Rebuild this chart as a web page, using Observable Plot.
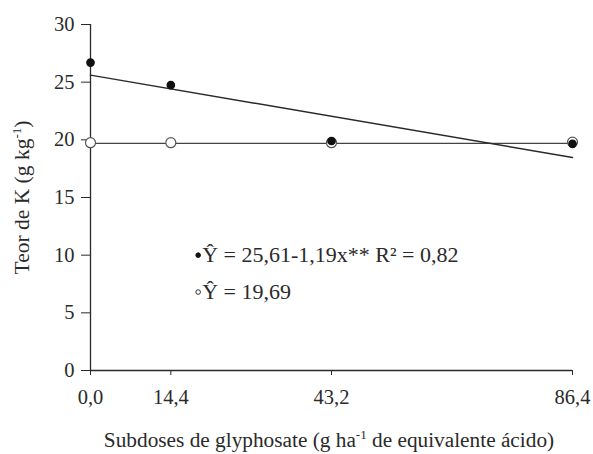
<!DOCTYPE html>
<html>
<head>
<meta charset="utf-8">
<script src="https://cdn.jsdelivr.net/npm/d3@7"></script>
<script src="https://cdn.jsdelivr.net/npm/@observablehq/plot@0.6"></script>
<style>
  html, body { margin: 0; padding: 0; background: #fff; }
  #chart svg { display: block; }
  #chart svg, #chart svg text, #chart svg tspan { font-family: "Liberation Serif", "Times New Roman", serif; }
</style>
</head>
<body>
<div id="chart"></div>
<script>
// Doses (g ha-1 de equivalente ácido)
const doses = [0, 14.4, 43.2, 86.4];
const doseLabels = ["0,0", "14,4", "43,2", "86,4"];
// Observed values, filled series (linear fit)
const filledValues = [26.7, 24.75, 19.9, 19.65];
// Observed values, open series (mean)
const openValues = [19.75, 19.75, 19.75, 19.8];
// Fitted lines (end points)
const fitX = [0, 86.4];
const fitFilled = [25.61, 18.47];
const fitOpen = [19.69, 19.69];
const yTicks = [0, 5, 10, 15, 20, 25, 30];
// Legend entries
const legendLabels = ["Ŷ = 25,61-1,19x** R² = 0,82", "Ŷ = 19,69"];
const legendKinds = ["filled", "open"];

const font = "Liberation Serif";
const ink = "#2a2a2a";

const filledPts = doses.map((d, i) => ({x: d, y: filledValues[i]}));
const openPts = doses.map((d, i) => ({x: d, y: openValues[i]}));
const lineF = fitX.map((d, i) => ({x: d, y: fitFilled[i]}));
const lineO = fitX.map((d, i) => ({x: d, y: fitOpen[i]}));
const legend = legendLabels.map((t, i) => ({label: t, kind: legendKinds[i], row: i}));
const legX = 19.3, legY0 = 10.0, legStep = 3.2;

const plot = Plot.plot({
  width: 593,
  height: 454,
  marginLeft: 90,
  marginRight: 21,
  marginTop: 24,
  marginBottom: 84,
  style: "font-family: 'Liberation Serif', serif; font-size: 20px; background: #fff; color: " + ink + ";",
  x: {type: "linear", domain: [0, 86.4]},
  y: {domain: [0, 30]},
  marks: [
    Plot.ruleX([0], {stroke: ink, strokeWidth: 1.3}),
    Plot.ruleY([0], {stroke: ink, strokeWidth: 1.3}),
    Plot.axisY({ticks: yTicks, tickSize: 9, tickPadding: 7, label: null, stroke: ink, fill: ink, fontSize: 20.5}),
    Plot.axisX({ticks: doses, tickFormat: (d) => doseLabels[doses.indexOf(d)], tickSize: 5, tickPadding: 14, label: null, stroke: ink, fill: ink, fontSize: 20.5}),
    Plot.line(lineO, {x: "x", y: "y", stroke: "#444", strokeWidth: 1.4}),
    Plot.line(lineF, {x: "x", y: "y", stroke: "#2a2a2a", strokeWidth: 1.5}),
    Plot.dot(openPts, {x: "x", y: "y", r: 5, fill: "#fff", stroke: "#555", strokeWidth: 1.2}),
    Plot.dot(filledPts, {x: "x", y: "y", r: 3.6, fill: "#111", stroke: "#111"}),
    Plot.dot(legend, {x: () => legX, y: (d) => legY0 - d.row * legStep, r: 2.3,
      fill: (d) => d.kind === "filled" ? "#111" : "#fff", stroke: (d) => d.kind === "filled" ? "#111" : "#333", strokeWidth: 1}),
    Plot.text(legend, {x: () => legX, y: (d) => legY0 - d.row * legStep, text: "label", dx: 4, textAnchor: "start",
      fill: ink, fontSize: 22, fontFamily: font})
  ]
});

const svg = d3.select(plot);
// Y axis title with superscript
const yt = svg.append("text")
  .attr("transform", "translate(29,197.5) rotate(-90)")
  .attr("text-anchor", "middle")
  .attr("font-family", font)
  .attr("font-size", 21.5)
  .attr("fill", ink);
yt.append("tspan").text("Teor de K (g kg");
yt.append("tspan").attr("dy", -8).attr("font-size", 13).text("-1");
yt.append("tspan").attr("dy", 8).text(")");

// X axis title with superscript
const xt = svg.append("text")
  .attr("x", 329).attr("y", 447)
  .attr("text-anchor", "middle")
  .attr("font-family", font)
  .attr("font-size", 21.3)
  .attr("fill", ink);
xt.append("tspan").text("Subdoses de glyphosate (g ha");
xt.append("tspan").attr("dy", -8).attr("font-size", 13).text("-1");
xt.append("tspan").attr("dy", 8).text(" de equivalente ácido)");

document.getElementById("chart").appendChild(plot);
</script>
</body>
</html>
